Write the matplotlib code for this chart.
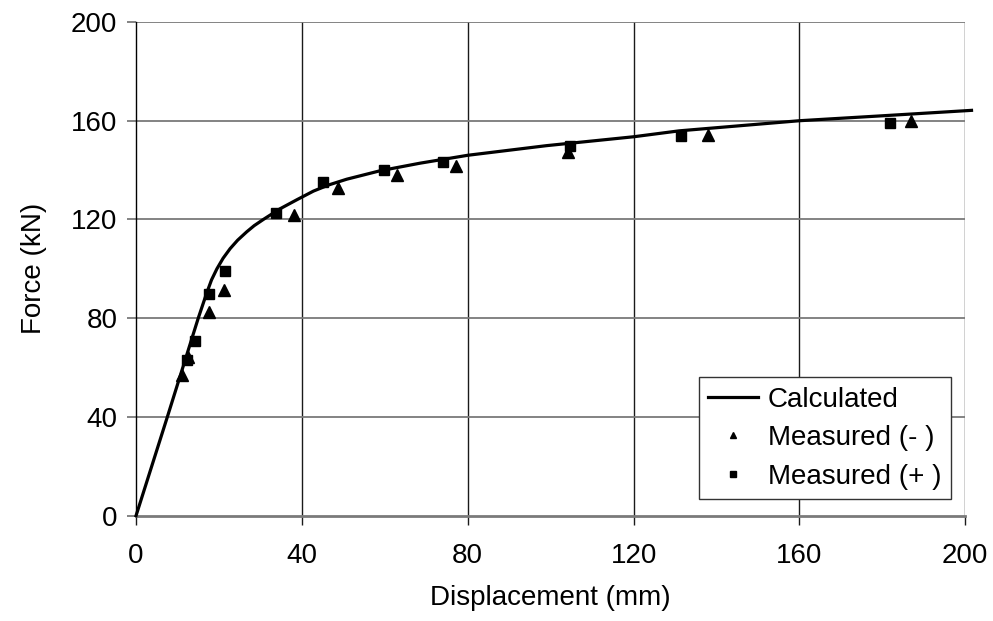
#!/usr/bin/env python3
"""Force vs displacement: calculated curve against measured points."""

import matplotlib
matplotlib.use("Agg")
import matplotlib.pyplot as plt

plt.rcParams["font.family"] = ["Liberation Sans", "DejaVu Sans"]

# Calculated curve
calc_disp = [0, 7.55, 15.0, 17.0, 18.2, 19.5, 21.0, 22.7, 24.5, 26.7, 28.5,
             30.7, 34.7, 38.8, 42.8, 46.5, 50.8, 58.8, 68.5, 80, 99, 120, 131,
             160, 180, 201.5]
calc_force = [0, 40, 80, 90.0, 95.5, 100.0, 104.3, 108.2, 111.6, 115.0, 117.5,
              120.0, 124.3, 128.0, 131.5, 134.0, 136.3, 139.7, 142.8, 146.0,
              149.9, 153.5, 155.9, 160.0, 162.0, 164.2]

# Measured, negative direction (triangles)
neg_disp = [11.2, 12.5, 17.5, 21.2, 38.2, 48.8, 62.9, 77.2, 104.1, 137.9, 186.9]
neg_force = [56.9, 64.3, 82.6, 91.4, 121.8, 132.9, 138.0, 141.6, 147.2, 154.3, 160.0]

# Measured, positive direction (squares)
pos_disp = [12.4, 14.2, 17.7, 21.5, 33.7, 45.0, 59.9, 74.0, 104.7, 131.4, 181.9]
pos_force = [62.9, 70.9, 89.7, 99.2, 122.5, 135.2, 140.0, 143.1, 149.9, 153.7, 159.2]

X_TICKS = [0, 40, 80, 120, 160, 200]
Y_TICKS = [0, 40, 80, 120, 160, 200]

FS = 20

fig = plt.figure(figsize=(9.93, 6.21), dpi=100)
ax = fig.add_axes([0.137, 0.1696, 0.9721 - 0.137, 0.9646 - 0.1696])

ax.set_xlim(0, 200)
ax.set_ylim(0, 200)

# grid: vertical dark, horizontal gray (Excel look)
for xv in X_TICKS[1:]:
    ax.axvline(xv, color="#1a1a1a", lw=1.0, zorder=1)
for yv in Y_TICKS[1:]:
    ax.axhline(yv, color="#7a7a7a", lw=1.3, zorder=1)

ax.plot(calc_disp, calc_force, color="black", lw=2.3, clip_on=False,
        zorder=3, label="Calculated")
ax.plot(neg_disp, neg_force, ls="none", marker="^", ms=8, color="black",
        zorder=4, label="Measured (- )")
ax.plot(pos_disp, pos_force, ls="none", marker="s", ms=6.5, color="black",
        zorder=4, label="Measured (+ )")

for s in ("top", "right"):
    ax.spines[s].set_visible(False)
ax.spines["left"].set_color("black")
ax.spines["left"].set_linewidth(1.0)
ax.spines["bottom"].set_color("#7a7a7a")
ax.spines["bottom"].set_linewidth(2.0)

ax.set_xticks(X_TICKS)
ax.set_yticks(Y_TICKS)
ax.tick_params(axis="x", direction="out", length=6.5, width=1.0,
               color="#1a1a1a", labelsize=FS, pad=13)
ax.tick_params(axis="y", direction="out", length=6.5, width=1.3,
               color="#7a7a7a", labelsize=FS, pad=7)

ax.set_xlabel("Displacement (mm)", fontsize=FS, labelpad=12)
ax.set_ylabel("Force (kN)", fontsize=FS, labelpad=17)

leg = ax.legend(loc="lower right", bbox_to_anchor=(0.983, 0.033),
                fontsize=FS, frameon=True, fancybox=False, framealpha=1,
                edgecolor="#333333", markerscale=0.6, handlelength=1.8,
                handletextpad=0.35, borderpad=0.35, labelspacing=0.45,
                borderaxespad=0)
leg.get_frame().set_linewidth(1.0)

fig.savefig("out.png", dpi=100)
